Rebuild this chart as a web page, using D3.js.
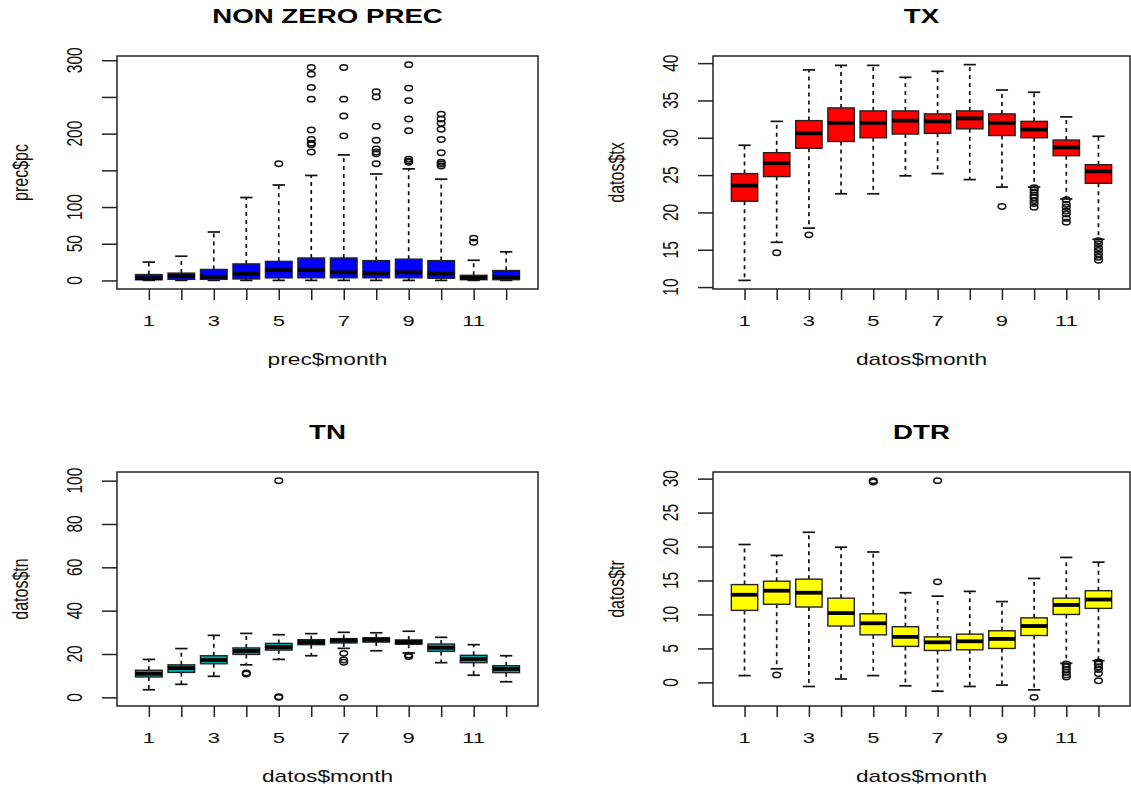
<!DOCTYPE html>
<html>
<head>
<meta charset="utf-8">
<script src="https://cdn.jsdelivr.net/npm/d3@7"></script>
<style>
  body { margin: 0; background: #fff; }
  text { font-family: "Liberation Sans", Arial, sans-serif; fill: #111; }
</style>
</head>
<body>
<script>
// Page size
var w = 1131;
var h = 789;
var SX = 1.42;   // the picture is stretched sideways

// Data (five-number summaries per month)
var months = [1, 2, 3, 4, 5, 6, 7, 8, 9, 10, 11, 12];
var monthLabels = ["1", "", "3", "", "5", "", "7", "", "9", "", "11", ""];

var precLow  = [0.1, 0.1, 0.1, 0.1, 0.1, 0.1, 0.1, 0.1, 0.1, 0.1, 0.1, 0.1];
var precQ1   = [1, 1.5, 1.5, 2, 3.5, 3.6, 3.6, 3.6, 3.6, 3, 1, 1];
var precMed  = [3, 6, 5, 9, 14, 14, 11, 10, 11, 9.5, 3.6, 4.5];
var precQ3   = [8, 10, 15, 22.5, 26, 30.6, 30.6, 27, 29, 27, 7, 13.5];
var precHigh = [25, 33, 66, 113, 130, 143, 171, 145, 152, 138, 27.5, 39];
var precOut  = [[], [], [], [], [159],
                [290, 281, 263, 247, 205, 192, 187, 185, 175],
                [290, 247, 224, 197],
                [257, 250, 210, 191, 179, 175, 172.5, 159],
                [294, 262, 245, 220, 204, 165, 162.6, 161],
                [226.6, 220, 214, 206, 192, 174, 161, 158.6, 156],
                [57.7, 52], []];
var precTicks = [0, 50, 100, 150, 200, 250, 300];
var precTickLabels = ["0", "50", "100", "", "200", "", "300"];

var txLow  = [10.9, 16, 17.9, 22.5, 22.5, 24.9, 25.2, 24.4, 23.4, 23.4, 21.8, 16.4];
var txQ1   = [21.5, 24.8, 28.6, 29.5, 30, 30.5, 30.6, 31.2, 30.3, 30, 27.6, 23.9];
var txMed  = [23.6, 26.6, 30.6, 32, 32, 32.3, 32.2, 32.6, 32, 31.1, 28.7, 25.5];
var txQ3   = [25.2, 28, 32.3, 34, 33.6, 33.6, 33.2, 33.6, 33.2, 32.2, 29.7, 26.4];
var txHigh = [29, 32.2, 39.1, 39.7, 39.7, 38.1, 38.9, 39.8, 36.4, 36.1, 32.8, 30.2];
var txOut  = [[], [14.6], [17.0], [], [], [], [], [], [20.8],
              [23.3, 23.0, 22.7, 22.3, 22.0, 21.6, 21.2, 20.7],
              [21.7, 21.1, 20.7, 20.2, 19.8, 19.2, 18.7],
              [16.2, 15.8, 15.3, 14.9, 14.4, 14.0, 13.6]];
var txTicks = [10, 15, 20, 25, 30, 35, 40];
var txTickLabels = ["10", "15", "20", "25", "30", "35", "40"];

var tnLow  = [3.5, 6, 9.7, 15, 17.5, 19.2, 22.6, 21.5, 20.5, 16, 10.2, 7.2];
var tnQ1   = [9.4, 11.5, 15.5, 19.8, 21.8, 24.3, 25.1, 25.5, 24.5, 21.2, 16, 11.4];
var tnMed  = [10.9, 13.5, 17.2, 21.4, 23.2, 25.5, 26.2, 26.6, 25.5, 22.9, 17.7, 13.1];
var tnQ3   = [12.5, 15, 19.2, 22.8, 24.9, 26.6, 27.1, 27.5, 26.5, 24.6, 19.4, 14.6];
var tnHigh = [17.5, 22.5, 28.6, 29.5, 28.9, 29.4, 30, 29.8, 30.5, 27.7, 24.3, 19.2];
var tnOut  = [[], [], [], [11.2, 10.8], [100, 0.3, 0], [], [20.3, 17.2, 16.2, 0],
              [], [19.5, 18.8], [], [], []];
var tnTicks = [0, 20, 40, 60, 80, 100];
var tnTickLabels = ["0", "20", "40", "60", "80", "100"];

var trLow  = [1.0, 2.0, -0.6, 0.5, 1.0, -0.5, -1.3, -0.6, -0.4, -1.1, 2.8, 3.2];
var trQ1   = [10.6, 11.5, 11.1, 8.3, 7.0, 5.3, 4.7, 4.8, 5.0, 6.9, 10.0, 10.9];
var trMed  = [12.9, 13.5, 13.2, 10.2, 8.7, 6.7, 5.9, 6.05, 6.4, 8.3, 11.4, 12.2];
var trQ3   = [14.4, 14.9, 15.2, 12.4, 10.1, 8.2, 6.7, 7.1, 7.6, 9.5, 12.4, 13.5];
var trHigh = [20.3, 18.7, 22.1, 19.9, 19.2, 13.2, 12.7, 13.4, 11.9, 15.3, 18.4, 17.7];
var trOut  = [[], [1.1], [], [], [29.7, 29.5], [], [14.8, 29.7], [], [], [-2.2],
              [2.7, 2.3, 1.9, 1.5, 1.1, 0.8],
              [3.0, 2.7, 2.3, 1.9, 1.3, 0.25]];
var trTicks = [0, 5, 10, 15, 20, 25, 30];
var trTickLabels = ["0", "5", "10", "15", "20", "25", "30"];

// Create SVG element
var svg = d3.select("body")
            .append("svg")
            .attr("width", w)
            .attr("height", h);

svg.append("rect").attr("width", w).attr("height", h).attr("fill", "white");

// text stretched like the picture
function stxt(g, x, y, str, size, opts) {
  opts = opts || {};
  var t = g.append("g")
           .attr("transform", "translate(" + x + "," + y + ") scale(" + SX + ",1)" + (opts.rot ? " rotate(-90)" : ""));
  t.append("text")
   .attr("text-anchor", "middle")
   .attr("font-size", size + "px")
   .attr("font-weight", opts.bold ? "bold" : "normal")
   .style("fill", opts.bold ? "#000" : "#111")
   .text(str);
}

function panel(c) {
  var g = svg.append("g");
  var x = d3.scaleLinear().domain([0.02, 12.98]).range([c.left, c.right]);

  // R style y range: data range padded by 4%
  var all = c.low.concat(c.high, d3.merge(c.out));
  var ext = d3.extent(all);
  var pad = (ext[1] - ext[0]) * 0.04;
  var y = d3.scaleLinear().domain([ext[0] - pad, ext[1] + pad]).range([c.bottom, c.top]);

  var step = x(2) - x(1);
  var bw = step * 0.82;
  var sw = step * 0.38;
  var idx = d3.range(months.length);

  // whiskers
  g.selectAll(".wu").data(idx).enter().append("line")
   .attr("x1", function(i) { return x(months[i]); })
   .attr("x2", function(i) { return x(months[i]); })
   .attr("y1", function(i) { return y(c.q3[i]); })
   .attr("y2", function(i) { return y(c.high[i]); })
   .attr("stroke", "#111").attr("stroke-width", 1.7).attr("stroke-dasharray", "4,4");
  g.selectAll(".wl").data(idx).enter().append("line")
   .attr("x1", function(i) { return x(months[i]); })
   .attr("x2", function(i) { return x(months[i]); })
   .attr("y1", function(i) { return y(c.q1[i]); })
   .attr("y2", function(i) { return y(c.low[i]); })
   .attr("stroke", "#111").attr("stroke-width", 1.7).attr("stroke-dasharray", "4,4");

  // staples
  [c.high, c.low].forEach(function(arr) {
    g.selectAll(null).data(idx).enter().append("line")
     .attr("x1", function(i) { return x(months[i]) - sw / 2; })
     .attr("x2", function(i) { return x(months[i]) + sw / 2; })
     .attr("y1", function(i) { return y(arr[i]); })
     .attr("y2", function(i) { return y(arr[i]); })
     .attr("stroke", "#111").attr("stroke-width", 1.7);
  });

  // boxes
  g.selectAll(".box").data(idx).enter().append("rect")
   .attr("x", function(i) { return x(months[i]) - bw / 2; })
   .attr("y", function(i) { return y(c.q3[i]); })
   .attr("width", bw)
   .attr("height", function(i) { return y(c.q1[i]) - y(c.q3[i]); })
   .attr("fill", c.fill)
   .attr("stroke", "#222").attr("stroke-width", 1.4);

  // medians
  g.selectAll(".med").data(idx).enter().append("line")
   .attr("x1", function(i) { return x(months[i]) - bw / 2; })
   .attr("x2", function(i) { return x(months[i]) + bw / 2; })
   .attr("y1", function(i) { return y(c.med[i]); })
   .attr("y2", function(i) { return y(c.med[i]); })
   .attr("stroke", "#000").attr("stroke-width", 3.8);

  // outliers
  var pts = [];
  idx.forEach(function(i) { c.out[i].forEach(function(v) { pts.push([months[i], v]); }); });
  g.selectAll(".out").data(pts).enter().append("ellipse")
   .attr("cx", function(d) { return x(d[0]); })
   .attr("cy", function(d) { return y(d[1]); })
   .attr("rx", 3.8).attr("ry", 2.7)
   .attr("fill", "none").attr("stroke", "#111").attr("stroke-width", 1.5);

  // axes: ticks only, labels drawn stretched below
  var ay = g.append("g").attr("transform", "translate(" + c.left + ",0)")
            .call(d3.axisLeft(y).tickValues(c.ticks).tickSize(15).tickFormat(""));
  var ax = g.append("g").attr("transform", "translate(0," + c.bottom + ")")
            .call(d3.axisBottom(x).tickValues(months).tickSize(11).tickFormat(""));
  [ay, ax].forEach(function(a) {
    a.select(".domain").remove();
    a.selectAll("line").attr("stroke", "#222").attr("stroke-width", 1.5);
  });

  // frame
  g.append("rect")
   .attr("x", c.left).attr("y", c.top)
   .attr("width", c.right - c.left).attr("height", c.bottom - c.top)
   .attr("fill", "none").attr("stroke", "#222").attr("stroke-width", 1.5);

  // texts
  c.ticks.forEach(function(t, i) {
    if (c.tickLabels[i]) stxt(g, c.left - 35, y(t), c.tickLabels[i], 15.5, { rot: true });
  });
  months.forEach(function(m, i) {
    if (monthLabels[i]) stxt(g, x(m), c.bottom + 37, monthLabels[i], 15.5);
  });
  var cx = (c.left + c.right) / 2;
  stxt(g, cx, c.top - 33, c.title, 19.5, { bold: true });
  stxt(g, cx, c.bottom + 76, c.xlab, 16);
  stxt(g, c.left - 89, (c.top + c.bottom) / 2, c.ylab, 16, { rot: true });
}

panel({ title: "NON ZERO PREC", xlab: "prec$month", ylab: "prec$pc", fill: "#0000ff",
        left: 117, right: 538, top: 56, bottom: 289,
        low: precLow, q1: precQ1, med: precMed, q3: precQ3, high: precHigh, out: precOut,
        ticks: precTicks, tickLabels: precTickLabels });
panel({ title: "TX", xlab: "datos$month", ylab: "datos$tx", fill: "#ff0000",
        left: 713, right: 1130, top: 56, bottom: 289,
        low: txLow, q1: txQ1, med: txMed, q3: txQ3, high: txHigh, out: txOut,
        ticks: txTicks, tickLabels: txTickLabels });
panel({ title: "TN", xlab: "datos$month", ylab: "datos$tn", fill: "#00aaaa",
        left: 117, right: 538, top: 472, bottom: 706,
        low: tnLow, q1: tnQ1, med: tnMed, q3: tnQ3, high: tnHigh, out: tnOut,
        ticks: tnTicks, tickLabels: tnTickLabels });
panel({ title: "DTR", xlab: "datos$month", ylab: "datos$tr", fill: "#ffff00",
        left: 713, right: 1130, top: 472, bottom: 706,
        low: trLow, q1: trQ1, med: trMed, q3: trQ3, high: trHigh, out: trOut,
        ticks: trTicks, tickLabels: trTickLabels });
</script>
</body>
</html>
